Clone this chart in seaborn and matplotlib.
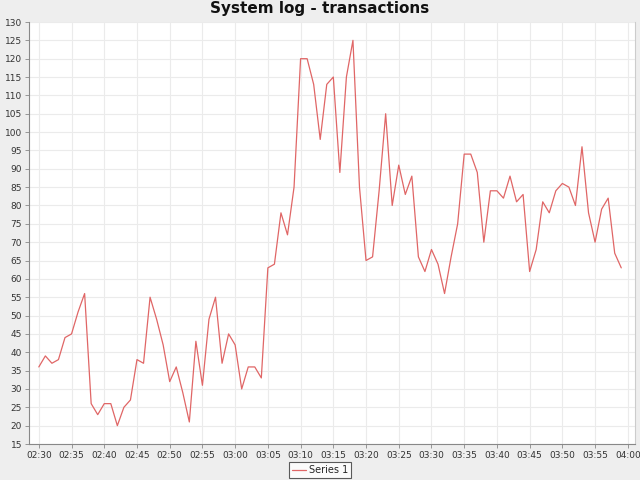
import numpy as np
import pandas as pd
import matplotlib
matplotlib.use("Agg")
import matplotlib.pyplot as plt
import matplotlib.dates as mdates
import seaborn as sns

start_time = "2024-01-01 02:30"
values = [36, 39, 37, 38, 44, 45, 51, 56, 26, 23,
          26, 26, 20, 25, 27, 38, 37, 55, 49, 42,
          32, 36, 29, 21, 43, 31, 49, 55, 37, 45,
          42, 30, 36, 36, 33, 63, 64, 78, 72, 85,
          120, 120, 113, 98, 113, 115, 89, 115, 125, 85,
          65, 66, 84, 105, 80, 91, 83, 88, 66, 62,
          68, 64, 56, 66, 75, 94, 94, 89, 70, 84,
          84, 82, 88, 81, 83, 62, 68, 81, 78, 84,
          86, 85, 80, 96, 78, 70, 79, 82, 67, 63]
times = pd.date_range(start_time, periods=len(values), freq="1min")
series_name = "Series 1"
title = "System log - transactions"

df = pd.DataFrame({"time": times, "value": values, "series": series_name})

sns.set_theme(style="white")
plt.rcParams['font.family'] = ['DejaVu Sans']

fig = plt.figure(figsize=(6.4, 4.8), dpi=100, facecolor="#eeeeee")
ax = fig.add_axes([29/640, 1-444/480, (635-29)/640, (444-22)/480])
ax.set_facecolor("white")

sns.lineplot(data=df, x="time", y="value", hue="series", palette=["#e06666"],
             linewidth=0.9, ax=ax, legend=False)

t0 = pd.Timestamp(start_time)
ax.set_xlim(t0 - pd.Timedelta(minutes=1.5), t0 + pd.Timedelta(minutes=91.1))
ax.set_ylim(15, 130)
ax.xaxis.set_major_locator(mdates.MinuteLocator(byminute=range(0, 60, 5)))
ax.xaxis.set_major_formatter(mdates.DateFormatter("%H:%M"))
ax.set_yticks(range(15, 131, 5))
ax.grid(True, color="#ebebeb", linewidth=0.8)
ax.set_xlabel("")
ax.set_ylabel("")
ax.tick_params(axis="both", labelsize=6.5, colors="#333333", length=3,
               width=0.6, direction="out", pad=2)
ax.tick_params(axis="both", color="#888888")
ax.spines["top"].set_visible(False)
ax.spines["right"].set_color("#cccccc")
ax.spines["right"].set_linewidth(0.8)
for side in ["left", "bottom"]:
    ax.spines[side].set_color("#888888")
    ax.spines[side].set_linewidth(0.8)
ax.tick_params(left=True, bottom=True)

fig.text(0.5, 1-9/480, title, ha="center", va="center",
         fontsize=11, fontweight="bold", color="#111111")

handle = plt.Line2D([], [], color="#e06666", linewidth=0.9)
leg = fig.legend([handle], [series_name], loc="upper center",
                 bbox_to_anchor=(0.5, 1-462/480), frameon=True,
                 fontsize=7, handlelength=1.5, borderpad=0.3, fancybox=False,
                 handletextpad=0.3, borderaxespad=0)
leg.get_frame().set_edgecolor("#333333")
leg.get_frame().set_linewidth(0.8)
leg.get_frame().set_facecolor("white")

fig.savefig("out.png", dpi=100, facecolor=fig.get_facecolor())
